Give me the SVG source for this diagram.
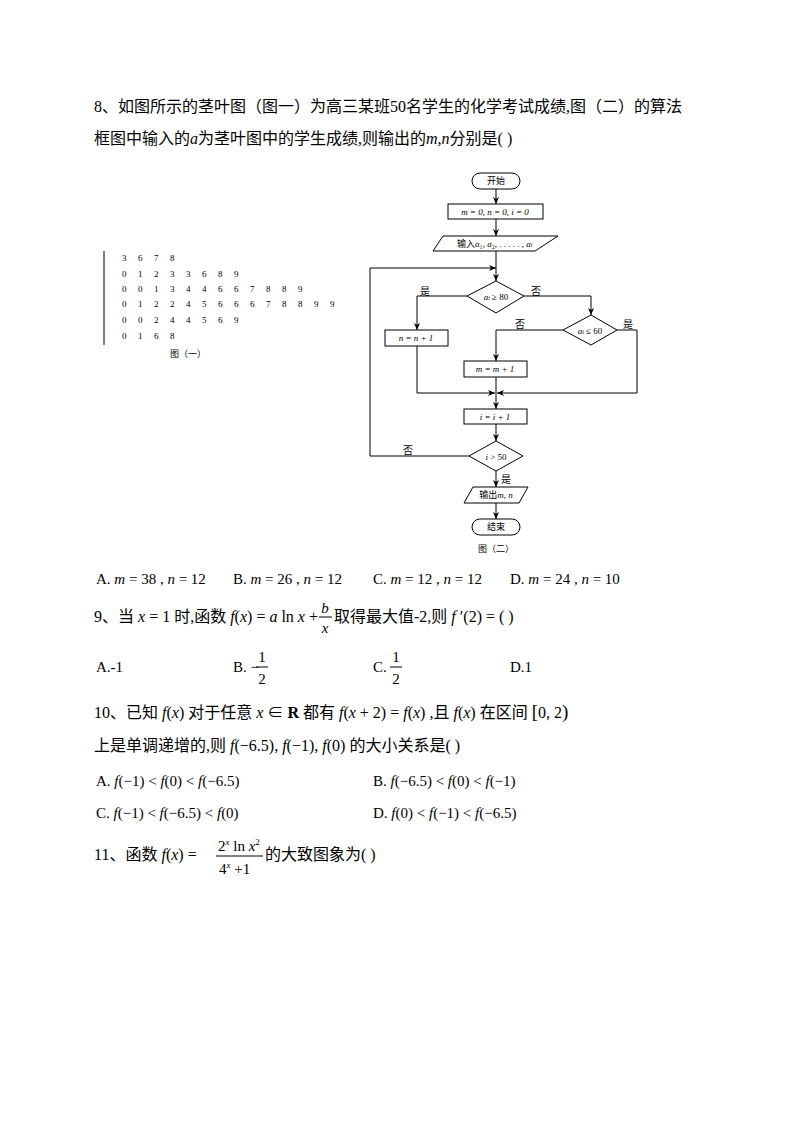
<svg xmlns="http://www.w3.org/2000/svg" width="794" height="1123" viewBox="0 0 794 1123">
<style>
.t{font-family:"Liberation Serif","Noto Sans CJK SC",serif;font-size:15px;fill:#000}
.q{font-size:16px}
.s{font-family:"Liberation Serif","Noto Sans CJK SC",serif;font-size:9px;fill:#000}
.sl{font-family:"Liberation Serif","Noto Sans CJK SC",serif;font-size:10px;fill:#000}
.i{font-style:italic}
.n{fill:#fff;stroke:#000;stroke-width:1}
.c{fill:none;stroke:#000;stroke-width:1}
</style>
<defs><marker id="a" markerWidth="8" markerHeight="8" refX="7" refY="4" orient="auto" markerUnits="userSpaceOnUse"><path d="M0,1 L7,4 L0,7 L2,4 Z" fill="#000"/></marker></defs>
<rect width="794" height="1123" fill="#fff"/>
<text class="t q" x="94" y="112">8、如图所示的茎叶图（图一）为高三某班50名学生的化学考试成绩,图（二）的算法</text>
<text class="t q" x="94" y="144">框图中输入的<tspan class="i">a</tspan>为茎叶图中的学生成绩,则输出的<tspan class="i">m,n</tspan>分别是(  )</text>
<g id="stemleaf">
<line x1="104" y1="251" x2="104" y2="345" stroke="#000" stroke-width="1"/>
<text class="s" x="122 138 154 170" y="261">3678</text>
<text class="s" x="122 138 154 170 186 202 218 234" y="277">01233689</text>
<text class="s" x="122 138 154 170 186 202 218 234 250 266 282 298" y="292">001344667889</text>
<text class="s" x="122 138 154 170 186 202 218 234 250 266 282 298 314 330" y="307">01224566678899</text>
<text class="s" x="122 138 154 170 186 202 218 234" y="323">00244569</text>
<text class="s" x="122 138 154 170" y="339">0168</text>
<text class="s" x="188" y="357" text-anchor="middle">图（一）</text>
</g>
<g id="connectors" class="c">
<line x1="496" y1="189" x2="496" y2="204" marker-end="url(#a)"/>
<line x1="496" y1="219" x2="496" y2="236" marker-end="url(#a)"/>
<line x1="496" y1="251" x2="496" y2="281" marker-end="url(#a)"/>
<polyline points="469,456 370,456 370,268 496,268" marker-end="url(#a)"/>
<polyline points="467,296 417,296 417,330" marker-end="url(#a)"/>
<polyline points="524,296 591,296 591,315" marker-end="url(#a)"/>
<polyline points="563,330 496,330 496,361" marker-end="url(#a)"/>
<polyline points="417,346 417,393 495,393" marker-end="url(#a)"/>
<polyline points="617,330 637,330 637,393 497,393" marker-end="url(#a)"/>
<line x1="496" y1="377" x2="496" y2="409" marker-end="url(#a)"/>
<line x1="496" y1="424" x2="496" y2="441" marker-end="url(#a)"/>
<line x1="496" y1="471" x2="496" y2="487" marker-end="url(#a)"/>
<line x1="496" y1="503" x2="496" y2="519" marker-end="url(#a)"/>
</g>
<text class="sl" x="425" y="295" text-anchor="middle">是</text>
<text class="sl" x="536" y="295" text-anchor="middle">否</text>
<text class="sl" x="520" y="328" text-anchor="middle">否</text>
<text class="sl" x="628" y="328" text-anchor="middle">是</text>
<text class="sl" x="408" y="454" text-anchor="middle">否</text>
<text class="sl" x="506" y="483" text-anchor="middle">是</text>
<g id="start"><rect class="n" x="472" y="173" width="48" height="16" rx="8"/><text class="s" x="496" y="184" text-anchor="middle">开始</text></g>
<g id="init"><rect class="n" x="448" y="204" width="95" height="15"/><text class="s i" x="495" y="215" text-anchor="middle">m = 0, n = 0, i = 0</text></g>
<g id="input"><polygon class="n" points="443,236 558,236 535,251 433,251"/><text class="s" x="457" y="247">输入<tspan class="i">a</tspan>₁, <tspan class="i">a</tspan>₂, . . . . . , <tspan class="i">a</tspan><tspan font-size="6" class="i">i</tspan></text></g>
<g id="d80"><polygon class="n" points="496,281 524,296 496,313 467,296"/><text class="s" x="496" y="300" text-anchor="middle"><tspan class="i">a</tspan><tspan font-size="6" class="i">i</tspan> ≥ 80</text></g>
<g id="nbox"><rect class="n" x="385" y="330" width="63" height="16"/><text class="s i" x="416" y="341" text-anchor="middle">n = n + 1</text></g>
<g id="d60"><polygon class="n" points="591,315 617,330 591,345 563,330"/><text class="s" x="590" y="334" text-anchor="middle"><tspan class="i">a</tspan><tspan font-size="6" class="i">i</tspan> ≤ 60</text></g>
<g id="mbox"><rect class="n" x="464" y="361" width="63" height="16"/><text class="s i" x="495" y="372" text-anchor="middle">m = m + 1</text></g>
<g id="ibox"><rect class="n" x="464" y="409" width="63" height="15"/><text class="s i" x="495" y="420" text-anchor="middle">i = i + 1</text></g>
<g id="d50"><polygon class="n" points="496,441 523,456 496,471 469,456"/><text class="s" x="496" y="460" text-anchor="middle"><tspan class="i">i</tspan> &gt; 50</text></g>
<g id="output"><polygon class="n" points="473,487 528,487 519,503 464,503"/><text class="s" x="496" y="498" text-anchor="middle">输出<tspan class="i">m, n</tspan></text></g>
<g id="end"><rect class="n" x="472" y="519" width="48" height="16" rx="8"/><text class="s" x="496" y="530" text-anchor="middle">结束</text></g>
<text class="s" x="496" y="552" text-anchor="middle">图（二）</text>
<text class="t" x="96" y="584">A. <tspan class="i">m</tspan> = 38 , <tspan class="i">n</tspan> = 12</text>
<text class="t" x="233" y="584">B. <tspan class="i">m</tspan> = 26 , <tspan class="i">n</tspan> = 12</text>
<text class="t" x="373" y="584">C. <tspan class="i">m</tspan> = 12 , <tspan class="i">n</tspan> = 12</text>
<text class="t" x="510" y="584">D. <tspan class="i">m</tspan> = 24 , <tspan class="i">n</tspan> = 10</text>
<text class="t q" x="94" y="622">9、当 <tspan class="i">x</tspan> = 1 时,函数 <tspan class="i">f</tspan>(<tspan class="i">x</tspan>) = <tspan class="i">a</tspan> ln <tspan class="i">x</tspan> +</text>
<text class="t i" x="325" y="613" text-anchor="middle">b</text>
<line x1="319" y1="617" x2="332" y2="617" stroke="#000"/>
<text class="t i" x="325" y="633" text-anchor="middle">x</text>
<text class="t q" x="334" y="622">取得最大值-2,则 <tspan class="i">f</tspan> ′(2) = (  )</text>
<text class="t" x="96" y="672">A.-1</text>
<text class="t" x="233" y="672">B. −</text>
<text class="t" x="262" y="662" text-anchor="middle">1</text><line x1="256" y1="667" x2="268" y2="667" stroke="#000"/><text class="t" x="262" y="684" text-anchor="middle">2</text>
<text class="t" x="373" y="672">C.</text>
<text class="t" x="396" y="662" text-anchor="middle">1</text><line x1="390" y1="667" x2="402" y2="667" stroke="#000"/><text class="t" x="396" y="684" text-anchor="middle">2</text>
<text class="t" x="510" y="672">D.1</text>
<text class="t q" x="94" y="718">10、已知 <tspan class="i">f</tspan>(<tspan class="i">x</tspan>) 对于任意 <tspan class="i">x</tspan> ∈ <tspan font-weight="bold">R</tspan> 都有 <tspan class="i">f</tspan>(<tspan class="i">x</tspan> + 2) = <tspan class="i">f</tspan>(<tspan class="i">x</tspan>) ,且 <tspan class="i">f</tspan>(<tspan class="i">x</tspan>) 在区间 <tspan font-size="19">[</tspan>0, 2<tspan font-size="19">)</tspan></text>
<text class="t q" x="94" y="751">上是单调递增的,则 <tspan class="i">f</tspan>(−6.5), <tspan class="i">f</tspan>(−1), <tspan class="i">f</tspan>(0) 的大小关系是(  )</text>
<text class="t" x="96" y="786">A. <tspan class="i">f</tspan>(−1) &lt; <tspan class="i">f</tspan>(0) &lt; <tspan class="i">f</tspan>(−6.5)</text>
<text class="t" x="373" y="786">B. <tspan class="i">f</tspan>(−6.5) &lt; <tspan class="i">f</tspan>(0) &lt; <tspan class="i">f</tspan>(−1)</text>
<text class="t" x="96" y="818">C. <tspan class="i">f</tspan>(−1) &lt; <tspan class="i">f</tspan>(−6.5) &lt; <tspan class="i">f</tspan>(0)</text>
<text class="t" x="373" y="818">D. <tspan class="i">f</tspan>(0) &lt; <tspan class="i">f</tspan>(−1) &lt; <tspan class="i">f</tspan>(−6.5)</text>
<text class="t q" x="94" y="860">11、函数 <tspan class="i">f</tspan>(<tspan class="i">x</tspan>) =</text>
<text class="t" x="218" y="851">2<tspan font-size="9" dy="-6" class="i">x</tspan><tspan dy="6"> ln </tspan><tspan class="i">x</tspan><tspan font-size="9" dy="-6">2</tspan></text>
<line x1="216" y1="856" x2="263" y2="856" stroke="#000"/>
<text class="t" x="219" y="874">4<tspan font-size="9" dy="-6" class="i">x</tspan><tspan dy="6"> +1</tspan></text>
<text class="t q" x="265" y="860">的大致图象为(  )</text>
</svg>
